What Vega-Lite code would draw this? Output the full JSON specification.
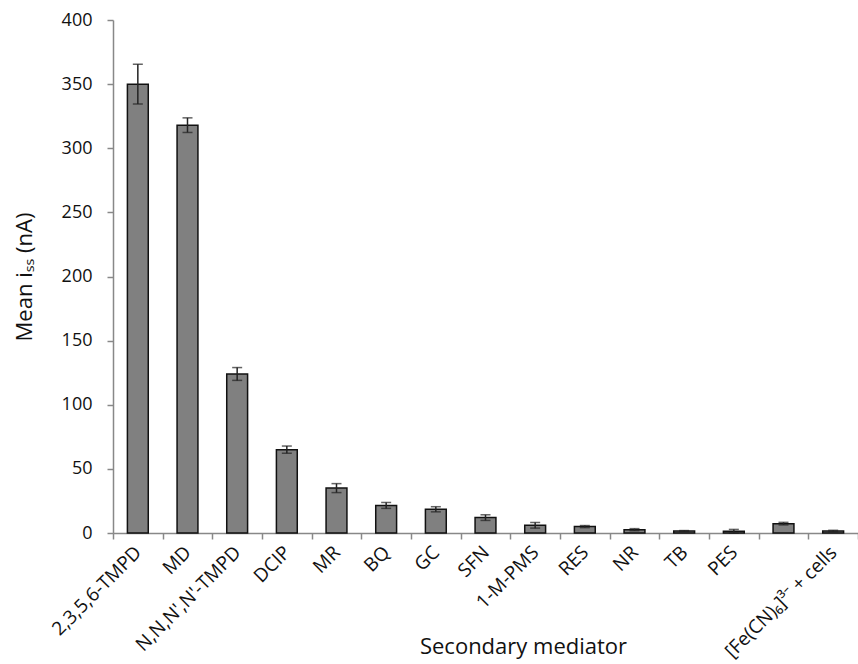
{
  "$schema": "https://vega.github.io/schema/vega-lite/v6.json",
  "width": 745,
  "height": 513,
  "autosize": "none",
  "padding": {"left": 113, "top": 20, "right": 0, "bottom": 131},
  "background": "white",
  "config": {
    "view": {"stroke": null},
    "font": "Open Sans"
  },
  "data": {
    "values": [
      {"mediator": "2,3,5,6-TMPD", "value": 350, "err": 15.5},
      {"mediator": "MD", "value": 318, "err": 5.7},
      {"mediator": "N,N,N',N'-TMPD", "value": 124, "err": 5},
      {"mediator": "DCIP", "value": 65, "err": 2.8},
      {"mediator": "MR", "value": 35, "err": 3.5},
      {"mediator": "BQ", "value": 21.5, "err": 2.3},
      {"mediator": "GC", "value": 18.5, "err": 2},
      {"mediator": "SFN", "value": 12, "err": 2.2},
      {"mediator": "1-M-PMS", "value": 6, "err": 2.2},
      {"mediator": "RES", "value": 5, "err": 0.8},
      {"mediator": "NR", "value": 2.6, "err": 0.8},
      {"mediator": "TB", "value": 1.5, "err": 0.4},
      {"mediator": "PES", "value": 1.3, "err": 1.5},
      {"mediator": " ", "value": 7.3, "err": 1},
      {"mediator": "[Fe(CN)₆]³⁻ + cells", "value": 1.5, "err": 0.6}
    ]
  },
  "encoding": {
    "x": {
      "field": "mediator",
      "type": "nominal",
      "sort": null,
      "scale": {"paddingInner": 0, "paddingOuter": 0},
      "axis": {
        "title": "Secondary mediator",
        "titleFontSize": 22,
        "titleFontWeight": "normal",
        "titleColor": "#111",
        "titleX": 410,
        "titleY": 120,
        "titleAlign": "center",
        "titleBaseline": "alphabetic",
        "labelAngle": -45,
        "labelAlign": "right",
        "labelBaseline": "middle",
        "labelFontSize": 19,
        "labelColor": "#111",
        "labelPadding": 10,
        "labelOverlap": false,
        "tickBand": "extent",
        "tickSize": 6,
        "tickColor": "#888",
        "tickWidth": 1.5,
        "domainColor": "#888",
        "domainWidth": 1.5,
        "grid": false
      }
    }
  },
  "layer": [
    {
      "mark": {"type": "bar", "width": {"band": 0.42}, "fill": "#808080", "stroke": "#111", "strokeWidth": 1.5},
      "encoding": {
        "y": {
          "field": "value",
          "type": "quantitative",
          "title": "Mean iₛₛ (nA)",
          "scale": {"domain": [0, 400], "nice": false},
          "axis": {
            "titleFontSize": 22,
            "titleFontWeight": "normal",
            "titleColor": "#111",
            "titleX": -89,
            "titleBaseline": "middle",
            "values": [0, 50, 100, 150, 200, 250, 300, 350, 400],
            "labelFontSize": 18,
            "labelColor": "#111",
            "labelPadding": 15,
            "tickSize": 6,
            "tickColor": "#888",
            "tickWidth": 1.5,
            "domainColor": "#888",
            "domainWidth": 1.5,
            "grid": false
          }
        }
      }
    },
    {
      "mark": {"type": "errorbar", "ticks": {"size": 10, "thickness": 1.5, "color": "#222"}, "rule": {"strokeWidth": 1.5, "color": "#222"}},
      "encoding": {
        "y": {"field": "value", "type": "quantitative", "title": "Mean iₛₛ (nA)"},
        "yError": {"field": "err"}
      }
    }
  ]
}
